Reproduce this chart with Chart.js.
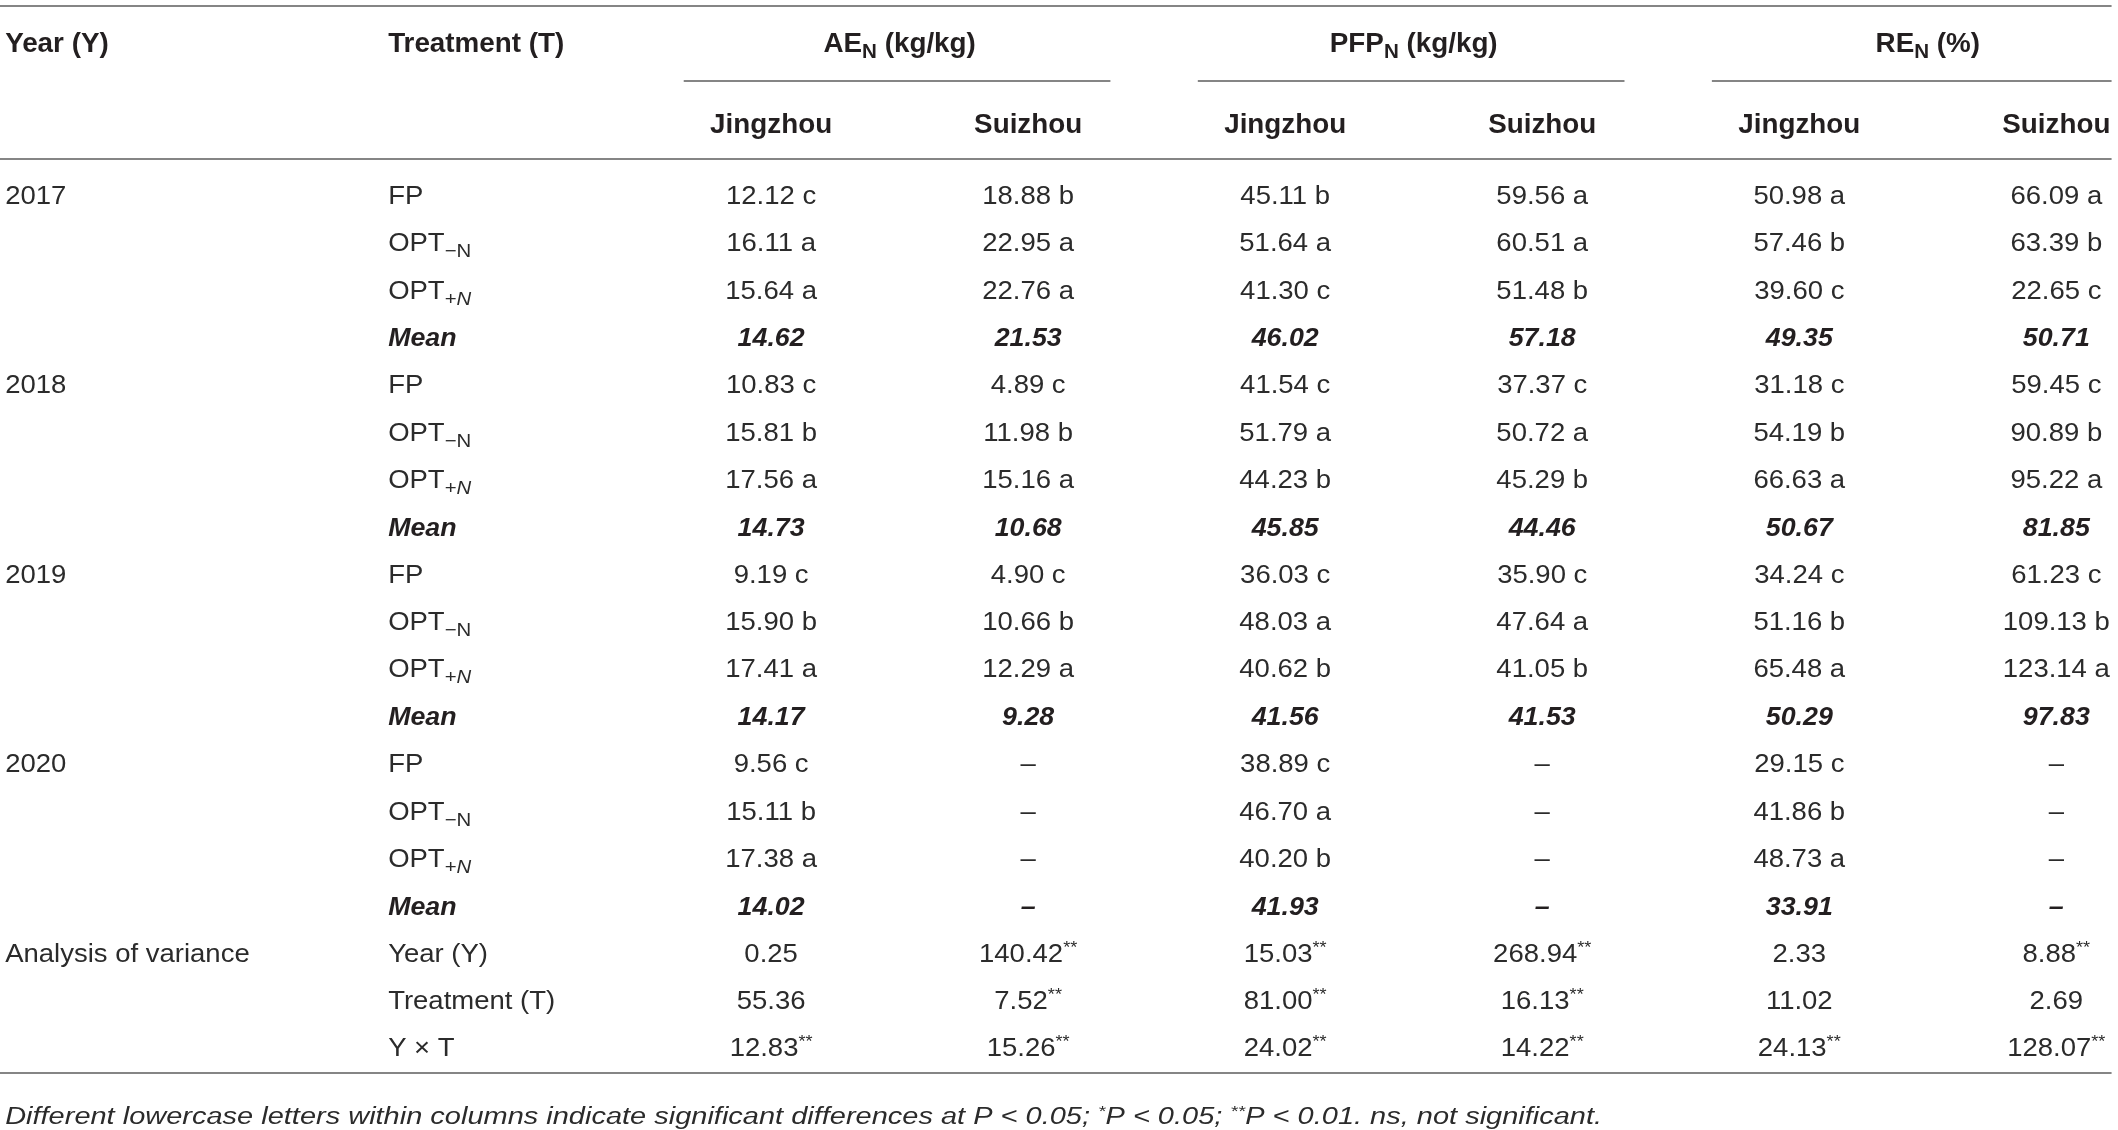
<!DOCTYPE html>
<html>
<head>
<meta charset="utf-8">
<script src="https://cdn.jsdelivr.net/npm/chart.js"></script>
<style>
  html, body { margin: 0; padding: 0; background: #fff; overflow: hidden; }
  #wrap { width: 2118px; height: 1130px; }
</style>
</head>
<body>
<div id="wrap"><canvas id="table"></canvas></div>
<script>
// table content
const years = ['2017', '2018', '2019', '2020'];
const treatments = ['FP', 'OPT_{−N}', 'OPT_{+}_i{N}', 'Mean'];
const indices = ['AE_{N} (kg/kg)', 'PFP_{N} (kg/kg)', 'RE_{N} (%)'];
const sites = ['Jingzhou', 'Suizhou'];
const anovaLabel = 'Analysis of variance';
const anovaSources = ['Year (Y)', 'Treatment (T)', 'Y × T'];

const aeJingzhou = ['12.12 c', '16.11 a', '15.64 a', '14.62',
                    '10.83 c', '15.81 b', '17.56 a', '14.73',
                    '9.19 c', '15.90 b', '17.41 a', '14.17',
                    '9.56 c', '15.11 b', '17.38 a', '14.02'];
const aeSuizhou = ['18.88 b', '22.95 a', '22.76 a', '21.53',
                   '4.89 c', '11.98 b', '15.16 a', '10.68',
                   '4.90 c', '10.66 b', '12.29 a', '9.28',
                   '–', '–', '–', '–'];
const pfpJingzhou = ['45.11 b', '51.64 a', '41.30 c', '46.02',
                     '41.54 c', '51.79 a', '44.23 b', '45.85',
                     '36.03 c', '48.03 a', '40.62 b', '41.56',
                     '38.89 c', '46.70 a', '40.20 b', '41.93'];
const pfpSuizhou = ['59.56 a', '60.51 a', '51.48 b', '57.18',
                    '37.37 c', '50.72 a', '45.29 b', '44.46',
                    '35.90 c', '47.64 a', '41.05 b', '41.53',
                    '–', '–', '–', '–'];
const reJingzhou = ['50.98 a', '57.46 b', '39.60 c', '49.35',
                    '31.18 c', '54.19 b', '66.63 a', '50.67',
                    '34.24 c', '51.16 b', '65.48 a', '50.29',
                    '29.15 c', '41.86 b', '48.73 a', '33.91'];
const reSuizhou = ['66.09 a', '63.39 b', '22.65 c', '50.71',
                   '59.45 c', '90.89 b', '95.22 a', '81.85',
                   '61.23 c', '109.13 b', '123.14 a', '97.83',
                   '–', '–', '–', '–'];

const anovaAeJingzhou = ['0.25', '55.36', '12.83**'];
const anovaAeSuizhou = ['140.42**', '7.52**', '15.26**'];
const anovaPfpJingzhou = ['15.03**', '81.00**', '24.02**'];
const anovaPfpSuizhou = ['268.94**', '16.13**', '14.22**'];
const anovaReJingzhou = ['2.33', '11.02', '24.13**'];
const anovaReSuizhou = ['8.88**', '2.69', '128.07**'];

const footnote = 'Different lowercase letters within columns indicate significant differences at P < 0.05; ^{*}P < 0.05; ^{**}P < 0.01. ns, not significant.';

// text styles
const FONT = '"Liberation Sans", Arial, Helvetica, sans-serif';
const styles = {
  body: { size: 25, weight: 'normal', italic: false, sx: 1.1, color: '#2b2b2b' },
  mean: { size: 26, weight: 'bold', italic: true, sx: 1.03, color: '#231f20' },
  head: { size: 27, weight: 'bold', italic: false, sx: 1.03, color: '#231f20' },
  note: { size: 23, weight: 'normal', italic: true, sx: 1.26, color: '#2b2b2b' }
};

// split "_{..}" subscripts, "_i{..}" italic subscripts, "^{..}" and trailing "**" superscripts
function parseRich(str) {
  return str.split(/(_i?\{[^}]*\}|\^\{[^}]*\}|\*+$)/).filter(s => s !== '').map(s => {
    if (s.startsWith('_i{')) return { text: s.slice(3, -1), kind: 'subi' };
    if (s.startsWith('_{')) return { text: s.slice(2, -1), kind: 'sub' };
    if (s.startsWith('^{')) return { text: s.slice(2, -1), kind: 'sup' };
    if (/^\*+$/.test(s)) return { text: s, kind: 'sup' };
    return { text: s, kind: 'n' };
  });
}

function drawRich(ctx, str, x, y, st, align) {
  const segs = parseRich(str);
  const base = y + st.size * 0.36;
  let total = 0;
  segs.forEach(s => {
    const sub = s.kind === 'sub' || s.kind === 'subi';
    const size = s.kind === 'n' ? st.size : st.size * (sub ? 0.74 : 0.66);
    const ital = st.italic || s.kind === 'subi';
    s.font = (ital ? 'italic ' : '') + st.weight + ' ' + size + 'px ' + FONT;
    s.dy = sub ? st.size * 0.24 : (s.kind === 'sup' ? -st.size * 0.36 : 0);
    ctx.font = s.font;
    s.w = ctx.measureText(s.text).width * st.sx;
    total += s.w;
  });
  let cx = align === 'center' ? x - total / 2 : x;
  ctx.fillStyle = st.color;
  ctx.textBaseline = 'alphabetic';
  ctx.textAlign = 'left';
  segs.forEach(s => {
    ctx.save();
    ctx.font = s.font;
    ctx.translate(cx, base + s.dy);
    ctx.scale(st.sx, 1);
    ctx.fillText(s.text, 0, 0);
    ctx.restore();
    cx += s.w;
  });
}

// columns: x is the column index on the x scale, rows are row indices on the y scale
const YEAR_X = -2.98, TREAT_X = -1.49;
const valueColumns = [
  aeJingzhou.concat(anovaAeJingzhou), aeSuizhou.concat(anovaAeSuizhou),
  pfpJingzhou.concat(anovaPfpJingzhou), pfpSuizhou.concat(anovaPfpSuizhou),
  reJingzhou.concat(anovaReJingzhou), reSuizhou.concat(anovaReSuizhou)
];
const yearCells = years.concat([anovaLabel]);
const treatCells = [].concat(...years.map(() => treatments), anovaSources);
const isMean = i => i < years.length * treatments.length && i % treatments.length === treatments.length - 1;

const datasets = [
  { label: 'Year', cells: yearCells, align: 'left', kind: 'year',
    data: yearCells.map((c, i) => ({ x: YEAR_X, y: i * treatments.length })) },
  { label: 'Treatment', cells: treatCells, align: 'left', kind: 'treat',
    data: treatCells.map((c, i) => ({ x: TREAT_X, y: i })) }
].concat(valueColumns.map((col, k) => ({
  label: indices[Math.floor(k / 2)] + ' ' + sites[k % 2], cells: col, align: 'center', kind: 'value',
  data: col.map((c, i) => ({ x: k, y: i }))
})));
datasets.forEach(d => { d.pointRadius = 0; d.showLine = false; });

const ROW_TOP_LINE = -4.0, ROW_HEAD1 = -3.23, ROW_GROUP_LINE = -2.40,
      ROW_HEAD2 = -1.52, ROW_HEAD_LINE = -0.76, ROW_BOTTOM_LINE = 18.55, ROW_NOTE = 19.45;
const X_LEFT = -3.0, X_RIGHT = 5.215;

const tablePlugin = {
  id: 'tableText',
  afterDatasetsDraw(chart) {
    const ctx = chart.ctx, xs = chart.scales.x, ys = chart.scales.y;
    ctx.save();
    // rules
    ctx.strokeStyle = '#858585';
    ctx.lineWidth = 2;
    const hline = (x0, x1, r) => {
      const py = Math.round(ys.getPixelForValue(r));
      ctx.beginPath();
      ctx.moveTo(xs.getPixelForValue(x0), py);
      ctx.lineTo(xs.getPixelForValue(x1), py);
      ctx.stroke();
    };
    [ROW_TOP_LINE, ROW_HEAD_LINE, ROW_BOTTOM_LINE].forEach(r => hline(X_LEFT, X_RIGHT, r));
    indices.forEach((h, g) => hline(2 * g - 0.34, Math.min(2 * g + 1.32, X_RIGHT), ROW_GROUP_LINE));

    // headers
    const h1 = ys.getPixelForValue(ROW_HEAD1), h2 = ys.getPixelForValue(ROW_HEAD2);
    drawRich(ctx, 'Year (Y)', xs.getPixelForValue(YEAR_X), h1, styles.head, 'left');
    drawRich(ctx, 'Treatment (T)', xs.getPixelForValue(TREAT_X), h1, styles.head, 'left');
    indices.forEach((h, g) => {
      drawRich(ctx, h, xs.getPixelForValue(2 * g + 0.5), h1, styles.head, 'center');
      sites.forEach((s, j) => drawRich(ctx, s, xs.getPixelForValue(2 * g + j), h2, styles.head, 'center'));
    });

    // body cells
    chart.data.datasets.forEach((ds, di) => {
      chart.getDatasetMeta(di).data.forEach((pt, i) => {
        const row = ds.data[i].y;
        const st = ds.kind !== 'year' && isMean(row) ? styles.mean : styles.body;
        drawRich(ctx, ds.cells[i], pt.x, pt.y, st, ds.align);
      });
    });

    drawRich(ctx, footnote, xs.getPixelForValue(YEAR_X), ys.getPixelForValue(ROW_NOTE), styles.note, 'left');
    ctx.restore();
  }
};

new Chart(document.getElementById('table').getContext('2d'), {
  type: 'scatter',
  data: { datasets: datasets },
  options: {
    responsive: true,
    maintainAspectRatio: false,
    animation: false,
    events: [],
    layout: { padding: 0 },
    plugins: { legend: { display: false }, tooltip: { enabled: false } },
    scales: {
      x: { type: 'linear', display: false, min: -3.0, max: 5.24 },
      y: { type: 'linear', display: false, reverse: true, min: -4.118, max: 19.747 }
    }
  },
  plugins: [tablePlugin]
});
</script>
</body>
</html>
